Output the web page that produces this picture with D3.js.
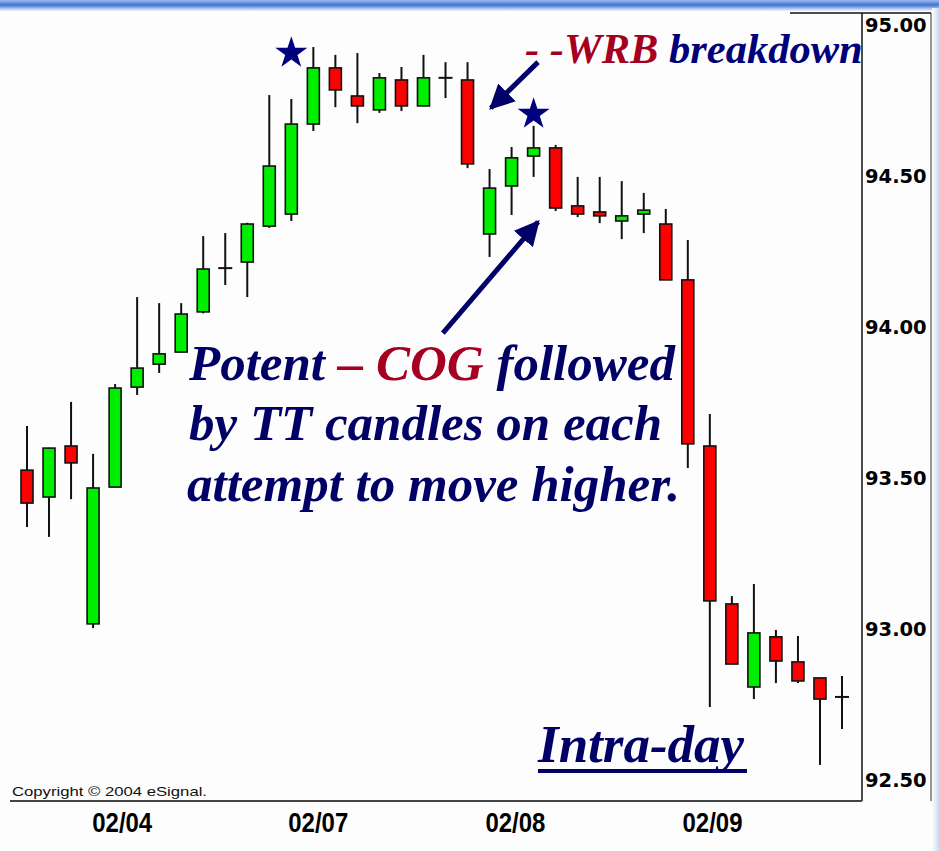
<!DOCTYPE html>
<html>
<head>
<meta charset="utf-8">
<script src="https://cdn.jsdelivr.net/npm/d3@7"></script>
<style>
html,body{margin:0;padding:0;background:#fdfdfd;}
svg{display:block;}
</style>
</head>
<body>
<svg id="chart" width="939" height="851"></svg>
<script>
// ---- data ----
const candleIndex = d3.range(38);
const opens  = [93.526,93.437,93.606,93.017,93.470,93.801,93.877,93.917,94.050,94.195,94.215,94.334,94.374,94.672,94.858,94.765,94.719,94.818,94.732,94.825,94.818,94.308,94.467,94.566,94.593,94.401,94.381,94.351,94.374,94.341,94.156,93.606,93.083,92.808,92.974,92.891,92.838,92.775];
const highs  = [93.672,93.600,93.752,93.580,93.811,94.099,94.079,94.079,94.301,94.311,94.345,94.768,94.755,94.927,94.901,94.907,94.841,94.861,94.901,94.877,94.877,94.523,94.596,94.666,94.603,94.497,94.497,94.483,94.444,94.391,94.288,93.712,93.109,93.149,92.997,92.977,92.838,92.844];
const lows   = [93.338,93.305,93.430,93.003,93.470,93.775,93.848,93.917,94.045,94.139,94.099,94.328,94.351,94.649,94.728,94.675,94.709,94.715,94.732,94.758,94.526,94.232,94.371,94.497,94.384,94.364,94.344,94.291,94.311,94.156,93.533,92.742,92.884,92.768,92.821,92.821,92.550,92.669];
const closes = [93.417,93.599,93.550,93.467,93.798,93.864,93.911,94.043,94.192,94.195,94.341,94.533,94.672,94.858,94.785,94.732,94.825,94.732,94.825,94.825,94.540,94.460,94.560,94.593,94.394,94.374,94.368,94.368,94.387,94.156,93.613,93.093,92.884,92.987,92.894,92.828,92.768,92.775];

const yTicks = [92.5, 93.0, 93.5, 94.0, 94.5, 95.0];
const xTickPos = [4.3, 13.2, 22.15, 31.1];
const xTickLabels = ["02/04", "02/07", "02/08", "02/09"];

// annotation anchors in data coordinates (candle index, price)
const starIdx = [12, 23];
const starPrice = [94.907, 94.705];
const arrowFromIdx = [23.2, 18.88];
const arrowFromPrice = [94.877, 93.980];
const arrowToIdx = [21.06, 23.2];
const arrowToPrice = [94.725, 94.348];

// ---- drawing ----
const svg = d3.select("#chart");
const NAVY = "#000066";
const DARKRED = "#a50021";

const x = d3.scaleLinear().domain([0, 37]).range([27, 842]);
const y = d3.scaleLinear().domain([92.5, 95]).range([780, 25]);

// window title bar artefact
const defs = svg.append("defs");
const g1 = defs.append("linearGradient").attr("id","bar").attr("x1",0).attr("y1",0).attr("x2",0).attr("y2",1);
g1.append("stop").attr("offset","0%").attr("stop-color","#9dbdea");
g1.append("stop").attr("offset","45%").attr("stop-color","#3f73d3");
g1.append("stop").attr("offset","100%").attr("stop-color","#f4f8fd");
svg.append("rect").attr("x",0).attr("y",0).attr("width",939).attr("height",11).attr("fill","url(#bar)");
const g2 = defs.append("linearGradient").attr("id","side").attr("x1",0).attr("y1",0).attr("x2",1).attr("y2",0);
g2.append("stop").attr("offset","0%").attr("stop-color","#fdfdfd");
g2.append("stop").attr("offset","100%").attr("stop-color","#c9dbf3");
svg.append("rect").attr("x",932).attr("y",8).attr("width",7).attr("height",843).attr("fill","url(#side)");

// frame
const frame = svg.append("g").attr("stroke","#111").attr("fill","none");
frame.append("line").attr("x1",862).attr("x2",862).attr("y1",13).attr("y2",801).attr("stroke-width",1.5);
frame.append("line").attr("x1",790).attr("x2",931).attr("y1",13).attr("y2",13).attr("stroke-width",1.5);
frame.append("line").attr("x1",931).attr("x2",931).attr("y1",13).attr("y2",801).attr("stroke-width",1).attr("stroke","#333");
frame.append("line").attr("x1",10).attr("x2",862).attr("y1",801).attr("y2",801).attr("stroke-width",2).attr("stroke","#444");

// y axis
const yAxis = svg.append("g").attr("transform","translate(862,0)")
  .call(d3.axisRight(y).tickValues(yTicks).tickFormat(d3.format(".2f")).tickSize(0).tickPadding(3));
yAxis.select(".domain").remove();
yAxis.selectAll("text").attr("font-family","'DejaVu Sans', sans-serif").attr("font-weight","bold")
  .attr("font-size","19.5px").attr("fill","#000");

// x axis
const xAxis = svg.append("g").attr("transform","translate(0,801)")
  .call(d3.axisBottom(x).tickValues(xTickPos).tickFormat((d,i)=>xTickLabels[i]).tickSize(0).tickPadding(12));
xAxis.select(".domain").remove();
xAxis.selectAll("text").attr("font-family","'Liberation Sans',Arial,sans-serif")
  .attr("font-weight","bold").attr("font-size","27px").attr("fill","#000")
  .attr("textLength",60).attr("lengthAdjust","spacingAndGlyphs");

// copyright
svg.append("text").attr("x",12).attr("y",796).attr("font-family","'Liberation Sans',Arial,sans-serif")
  .attr("font-size","13px").attr("fill","#111").attr("textLength",195).attr("lengthAdjust","spacingAndGlyphs")
  .text("Copyright \u00A9 2004 eSignal.");

// candles
const data = candleIndex.map(i => ({i, o: opens[i], h: highs[i], l: lows[i], c: closes[i]}));
const cg = svg.append("g");
cg.selectAll("line.wick").data(data).join("line").attr("class","wick")
  .attr("x1",d=>x(d.i)).attr("x2",d=>x(d.i)).attr("y1",d=>y(d.h)).attr("y2",d=>y(d.l))
  .attr("stroke","#111").attr("stroke-width",2);
const bodies = data.filter(d => d.o !== d.c);
cg.selectAll("rect.body").data(bodies).join("rect").attr("class","body")
  .attr("x",d=>x(d.i)-6).attr("width",12)
  .attr("y",d=>y(Math.max(d.o,d.c))).attr("height",d=>Math.max(1,Math.abs(y(d.o)-y(d.c))))
  .attr("fill",d=>d.c>d.o?"#00ee00":"#ff0000").attr("stroke","#111").attr("stroke-width",1.6);
const dojis = data.filter(d => d.o === d.c);
cg.selectAll("line.doji").data(dojis).join("line").attr("class","doji")
  .attr("x1",d=>x(d.i)-7).attr("x2",d=>x(d.i)+7).attr("y1",d=>y(d.o)).attr("y2",d=>y(d.o))
  .attr("stroke","#111").attr("stroke-width",2);

// stars
svg.append("g").selectAll("path").data(starIdx).join("path")
  .attr("transform",(d,i)=>`translate(${x(d)},${y(starPrice[i])})`)
  .attr("d", d3.symbol().type(d3.symbolStar).size(320)())
  .attr("fill","#00007f");

// arrows
const mk = defs.append("marker").attr("id","ah").attr("viewBox","0 0 10 10").attr("refX",9).attr("refY",5)
  .attr("markerWidth",5).attr("markerHeight",5).attr("markerUnits","strokeWidth").attr("orient","auto");
mk.append("path").attr("d","M0,0 L10,5 L0,10 Z").attr("fill",NAVY);
svg.append("g").selectAll("line").data(arrowFromIdx).join("line")
  .attr("x1",(d)=>x(d)).attr("y1",(d,i)=>y(arrowFromPrice[i]))
  .attr("x2",(d,i)=>x(arrowToIdx[i])).attr("y2",(d,i)=>y(arrowToPrice[i]))
  .attr("stroke",NAVY).attr("stroke-width",5).attr("marker-end","url(#ah)");

// annotation texts
const serif = "'Liberation Serif','Times New Roman',serif";
const t1 = svg.append("text").attr("x",525).attr("y",63).attr("font-family",serif)
  .attr("font-style","italic").attr("font-weight","bold").attr("font-size","42.5px");
t1.append("tspan").attr("fill",DARKRED).text("- -WRB");
t1.append("tspan").attr("fill","#00007a").text(" breakdown");

const big = svg.append("g").attr("font-family",serif).attr("font-style","italic")
  .attr("font-weight","bold").attr("font-size","51px").attr("fill",NAVY);
const l1 = big.append("text").attr("x",189).attr("y",380);
l1.append("tspan").text("Potent ");
l1.append("tspan").attr("fill",DARKRED).text("\u2013 COG");
l1.append("tspan").text(" followed");
big.append("text").attr("x",189).attr("y",440).text("by TT candles on each");
big.append("text").attr("x",187).attr("y",501).text("attempt to move higher.");

svg.append("text").attr("x",538).attr("y",762).attr("font-family",serif).attr("font-style","italic")
  .attr("font-weight","bold").attr("font-size","53px").attr("fill",NAVY).text("Intra-day");
svg.append("rect").attr("x",538).attr("y",769).attr("width",209).attr("height",4).attr("fill",NAVY);
</script>
</body>
</html>
